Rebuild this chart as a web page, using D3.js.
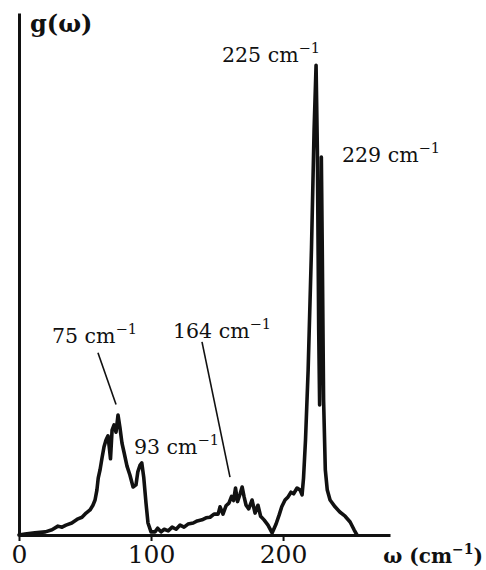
<!DOCTYPE html>
<html>
<head>
<meta charset="utf-8">
<script src="https://cdn.jsdelivr.net/npm/d3@7"></script>
<style>
  html, body { margin: 0; padding: 0; background: #fff; }
  svg { display: block; }
</style>
</head>
<body>
<svg id="chart" width="486" height="570"></svg>
<script>
// Phonon density of states g(ω) versus frequency ω (cm⁻¹)
const omega = [
  0, 4.5, 12, 20, 25, 29.5, 32.6, 35.6, 40, 44.7, 47.7, 50.8, 53.8, 56, 57.6, 59, 60,
  61.4, 62.9, 64.4, 65.9, 67.4, 68.5, 69.3, 70.5, 72, 73.5, 75, 76.5, 78, 79.5, 81.8,
  84, 86.4, 88.6, 90, 91.7, 93, 94.5, 96.2, 97.7, 100, 103, 105, 107.6, 110, 113, 116,
  119, 122, 125, 128, 132, 135, 138.6, 141.7, 144.7, 147.7, 150.8, 152.3, 154.5, 156.8,
  159, 161, 162.5, 164, 165.5, 167.5, 169, 170.5, 172, 174, 176.5, 178.8, 181, 183,
  185.6, 188.6, 191.7, 194.7, 197, 199, 201.5, 203.8, 206, 208, 210.6, 212.9, 214.4,
  215.5, 217, 219, 221.5, 223.5, 225, 226, 227, 227.7, 228.3, 229, 229.7, 230.7, 232,
  233.5, 235.6, 239.4, 243, 247, 250.8, 253.8, 256
];
const gValues = [
  0, 0.2, 0.4, 0.6, 1.0, 1.7, 1.5, 1.9, 2.3, 3.1, 3.4, 4.2, 4.8, 5.7, 6.7, 8.6, 10.9,
  12.5, 14.8, 16.9, 18.2, 19.0, 16.5, 14.6, 20.1, 21.1, 19.7, 23.0, 20.5, 17.6, 15.9, 13.2,
  11.5, 9.2, 9.6, 12.1, 13.4, 13.8, 11.0, 6.1, 2.3, 0.6, 0.6, 1.3, 0.6, 1.1, 0.8, 1.5,
  1.1, 1.9, 1.5, 2.1, 2.3, 2.7, 2.9, 3.3, 3.4, 4.0, 4.0, 5.4, 4.0, 5.6,
  6.1, 7.4, 6.6, 9.0, 6.4, 7.9, 9.2, 7.3, 5.7, 5.0, 6.7, 4.2, 5.7, 3.6,
  2.9, 1.9, 0.4, 2.1, 3.8, 5.4, 6.7, 7.3, 8.2, 7.9, 9.0, 8.6, 7.7,
  10.9, 18.2, 31.6, 54.6, 77.6, 90.0, 73.6, 39.3, 24.9, 39.3, 72.4, 54.6, 25.9, 12.5,
  8.6, 6.7, 5.4, 4.4, 3.6, 2.5, 1.0, 0
];
const xTicks = [0, 100, 200];
const peakLabels = ["75", "93", "164", "225", "229"];

// ---- layout ----
const x = d3.scaleLinear().domain([0, 281]).range([19, 390]);
const y = d3.scaleLinear().domain([0, 100]).range([535, 13]);

const serif = "'DejaVu Serif', serif";
const ink = "#111";

const svg = d3.select("#chart");

// x axis
const xAxis = svg.append("g")
  .attr("transform", `translate(0,${y(0)})`)
  .call(d3.axisBottom(x).tickValues(xTicks).tickSize(6).tickSizeOuter(0).tickFormat(d3.format("d")));
xAxis.select(".domain").attr("stroke", ink).attr("stroke-width", 3);
xAxis.selectAll(".tick line").attr("stroke", ink).attr("stroke-width", 2);
xAxis.selectAll(".tick text")
  .attr("y", 10).attr("dy", "0.71em")
  .attr("font-family", serif).attr("font-size", 25).attr("fill", ink);

// y axis (no ticks)
const yAxis = svg.append("g")
  .attr("transform", `translate(${x(0)},0)`)
  .call(d3.axisLeft(y).tickValues([]).tickSizeOuter(0));
yAxis.select(".domain").attr("stroke", ink).attr("stroke-width", 3);

// density of states curve
const pts = omega.map((w, i) => [w, gValues[i]]);
svg.append("path")
  .datum(pts)
  .attr("fill", "none")
  .attr("stroke", ink)
  .attr("stroke-width", 3.6)
  .attr("stroke-linejoin", "round")
  .attr("stroke-linecap", "round")
  .attr("d", d3.line().x(d => x(d[0])).y(d => y(d[1])));

// axis titles
svg.append("text")
  .attr("x", 30).attr("y", 32)
  .attr("font-family", serif).attr("font-weight", "bold").attr("font-size", 24).attr("fill", ink)
  .text("g(ω)");

const xt = svg.append("text")
  .attr("x", 483).attr("y", 563).attr("text-anchor", "end")
  .attr("font-family", serif).attr("font-weight", "bold").attr("font-size", 20).attr("fill", ink);
xt.append("tspan").text("ω (cm");
xt.append("tspan").attr("font-size", 14).attr("dy", -9).text("−1");
xt.append("tspan").attr("dy", 9).text(")");

// peak annotations: text anchor (px) per label
const labelPos = {
  "75":  [52, 343],
  "93":  [134, 454],
  "164": [173, 338],
  "225": [222, 62],
  "229": [342, 162]
};
peakLabels.forEach(lbl => {
  const [lx, ly] = labelPos[lbl];
  const t = svg.append("text")
    .attr("x", lx).attr("y", ly)
    .attr("font-family", serif).attr("font-size", 20.5).attr("fill", ink);
  t.append("tspan").text(lbl + " cm");
  t.append("tspan").attr("font-size", 14.5).attr("dy", -9).text("−1");
});

// leader lines from labels to the 75 and 164 cm⁻¹ features
const leaders = [
  [[59.8, 34.9], [73.5, 25.0]],
  [[138.6, 37.0], [159.8, 11.1]]
];
leaders.forEach(([a, b]) => {
  svg.append("line")
    .attr("x1", x(a[0])).attr("y1", y(a[1]))
    .attr("x2", x(b[0])).attr("y2", y(b[1]))
    .attr("stroke", ink).attr("stroke-width", 1.6);
});
</script>
</body>
</html>
